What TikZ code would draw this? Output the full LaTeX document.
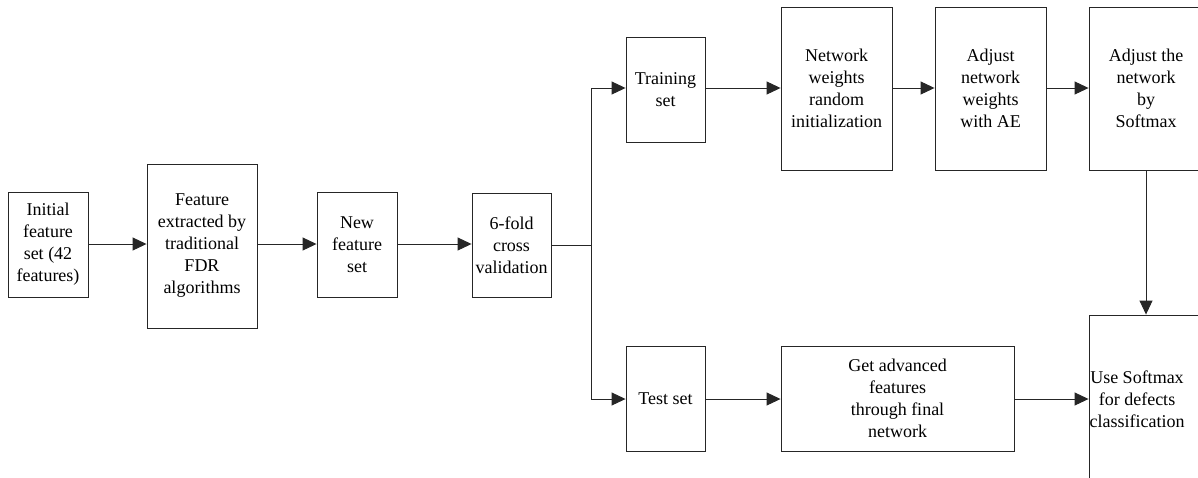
\documentclass[tikz,border=0pt]{standalone}
\usepackage{fontspec}
\setmainfont{Liberation Serif}
\newfontfamily\tnr{Liberation Serif}
\usetikzlibrary{arrows.meta}
\begin{document}
\begin{tikzpicture}[x=1pt,y=-1pt,
  txt/.style={inner sep=0pt, align=center, font=\tnr\fontsize{18}{22}\selectfont},
  box/.style={txt, draw=black!85, line width=0.9pt},
  conn/.style={draw=black!85, line width=0.9pt},
  arr/.style={conn, -{Triangle[length=14pt,width=13pt]}}]
\useasboundingbox (0,0) rectangle (1198,477);
\clip (0,0) rectangle (1198,477);
\node[box, minimum width=80pt, minimum height=105pt] (b1) at (48,244.5) {Initial\\feature\\set (42\\features)};
\node[box, minimum width=110pt, minimum height=164pt] (b2) at (202,246) {Feature\\extracted by\\traditional\\FDR\\algorithms};
\node[box, minimum width=80pt, minimum height=105pt] (b3) at (357,244.5) {New\\feature\\set};
\node[box, minimum width=79pt, minimum height=104pt] (b4) at (511.5,245) {6-fold\\cross\\validation};
\node[box, minimum width=79pt, minimum height=105pt] (b5) at (665.5,89.5) {Training\\set};
\node[box, minimum width=111pt, minimum height=163pt] (b6) at (836.5,88.5) {Network\\weights\\random\\initialization};
\node[box, minimum width=111pt, minimum height=163pt] (b7) at (990.5,88.5) {Adjust\\network\\weights\\with AE};
\node[box, minimum width=114pt, minimum height=163pt] (b8) at (1146,88.5) {Adjust the\\network\\by\\Softmax};
\node[box, minimum width=79pt, minimum height=105pt] (b9) at (665.5,398.5) {Test set};
\node[box, minimum width=233pt, minimum height=105pt] (b10) at (897.5,398.5) {Get advanced\\features\\through final\\network};
\node[box, minimum width=114pt, minimum height=205pt] (b11) at (1146,417.5) {};
\node[txt] (t11) at (1137,399) {Use Softmax\\for defects\\classification};
\coordinate (j) at (591,245);
\draw[arr] (b1.east |- 0,244) -- (b2.west |- 0,244);
\draw[arr] (b2.east |- 0,244) -- (b3.west |- 0,244);
\draw[arr] (b3.east |- 0,244) -- (b4.west |- 0,244);
\draw[conn] (b4.east |- j) -- (j);
\draw[arr] (j) |- (b5.west |- 0,88);
\draw[arr] (j) |- (b9.west |- 0,399);
\draw[arr] (b5.east |- 0,88) -- (b6.west |- 0,88);
\draw[arr] (b6.east |- 0,88) -- (b7.west |- 0,88);
\draw[arr] (b7.east |- 0,88) -- (b8.west |- 0,88);
\draw[arr] (b9.east |- 0,399) -- (b10.west |- 0,399);
\draw[arr] (b10.east |- 0,399) -- (b11.west |- 0,399);
\draw[arr] (b8.south) -- (b11.north);
\end{tikzpicture}
\end{document}
